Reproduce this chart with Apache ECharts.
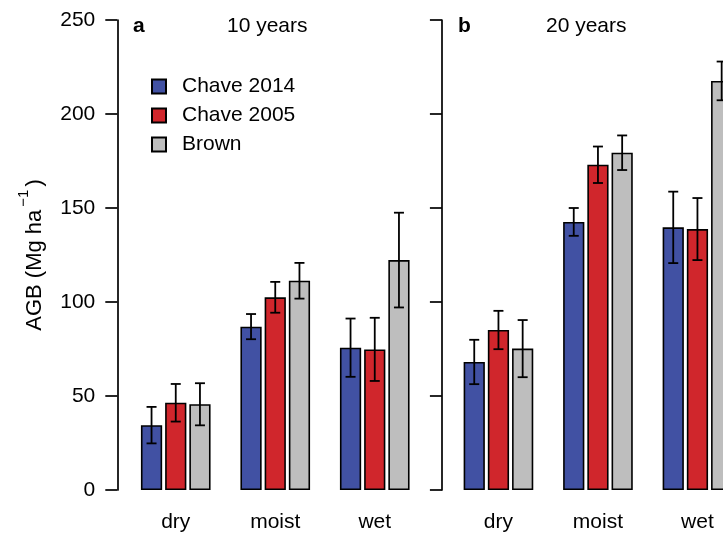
<!DOCTYPE html>
<html>
<head>
<meta charset="utf-8">
<script src="https://cdn.jsdelivr.net/npm/echarts@6/dist/echarts.min.js"></script>
<style>html,body{margin:0;padding:0;background:#fff;}#c{width:723px;height:535px;}</style>
</head>
<body>
<div id="c"></div>
<script>
// ---- data ----
var categories = ['dry', 'moist', 'wet'];
var methods = ['Chave 2014', 'Chave 2005', 'Brown'];
var yTicks = [0, 50, 100, 150, 200, 250];

var a_chave2014 = [34.5, 86.9, 75.7];
var a_chave2014_err = [9.7, 6.7, 15.5];
var a_chave2005 = [46.4, 102.5, 74.8];
var a_chave2005_err = [10.0, 8.2, 16.8];
var a_brown = [45.6, 111.3, 122.3];
var a_brown_err = [11.2, 9.5, 25.2];

var b_chave2014 = [68.1, 142.6, 139.7];
var b_chave2014_err = [11.8, 7.4, 19.0];
var b_chave2005 = [85.1, 173.0, 138.8];
var b_chave2005_err = [10.2, 9.7, 16.5];
var b_brown = [75.2, 179.4, 217.6];
var b_brown_err = [15.2, 9.2, 10.3];

var colors = ['#4151A3', '#D0262C', '#BEBEBE'];
var FONT = 'Liberation Sans, Arial, Helvetica, sans-serif';
var FS = 21;

var panels = [
  {vals: [a_chave2014, a_chave2005, a_brown], errs: [a_chave2014_err, a_chave2005_err, a_brown_err]},
  {vals: [b_chave2014, b_chave2005, b_brown], errs: [b_chave2014_err, b_chave2005_err, b_brown_err]}
];

var CAT_GAP = 0.30, BAR_GAP = 0.14;

function errRender(idx) {
  return function (params, api) {
    var c = api.value(0), lo = api.value(1), hi = api.value(2);
    var band = api.size([1, 0])[0];
    var bw = band * (1 - CAT_GAP) / (3 + 2 * BAR_GAP);
    var pitch = bw * (1 + BAR_GAP);
    var pHi = api.coord([c, hi]);
    var pLo = api.coord([c, lo]);
    var x = pHi[0] + (idx - 1) * pitch;
    var cap = 5;
    var st = {stroke: '#000', lineWidth: 1.8};
    return {
      type: 'group',
      children: [
        {type: 'line', shape: {x1: x, y1: pHi[1], x2: x, y2: pLo[1]}, style: st},
        {type: 'line', shape: {x1: x - cap, y1: pHi[1], x2: x + cap, y2: pHi[1]}, style: st},
        {type: 'line', shape: {x1: x - cap, y1: pLo[1], x2: x + cap, y2: pLo[1]}, style: st}
      ]
    };
  };
}

var grids = [
  {left: 126, width: 298.5, top: 20, height: 470, outerBoundsMode: 'none', containLabel: false},
  {left: 448.7, width: 298.5, top: 20, height: 470, outerBoundsMode: 'none', containLabel: false}
];

var xAxes = [], yAxes = [], series = [];
for (var p = 0; p < 2; p++) {
  xAxes.push({
    type: 'category', gridIndex: p, data: categories,
    axisLine: {show: false}, axisTick: {show: false},
    axisLabel: {color: '#000', fontSize: FS, fontFamily: FONT, margin: 22}
  });
  yAxes.push({
    type: 'value', gridIndex: p, min: yTicks[0], max: yTicks[yTicks.length - 1], interval: 50,
    offset: p === 0 ? 8.7 : 6.8,
    splitLine: {show: false},
    axisLine: {show: true, lineStyle: {color: '#000', width: 1.7}},
    axisTick: {show: true, length: 12, lineStyle: {color: '#000', width: 1.7}},
    axisLabel: {show: p === 0, color: '#000', fontSize: FS, fontFamily: FONT, margin: 22},
    name: p === 0 ? '{m|AGB (Mg ha}{s|\u22121}{m|)}' : '',
    nameLocation: 'middle',
    nameGap: 71,
    nameTextStyle: {
      rich: {
        m: {fontSize: 22, fontFamily: FONT, color: '#000', lineHeight: 30, verticalAlign: 'bottom'},
        s: {fontSize: 15, fontFamily: FONT, color: '#000', lineHeight: 15, verticalAlign: 'top', padding: [0, 3, 0, 3]}
      }
    }
  });
  for (var m = 0; m < 3; m++) {
    series.push({
      type: 'bar', name: methods[m], xAxisIndex: p, yAxisIndex: p,
      data: panels[p].vals[m],
      barCategoryGap: (CAT_GAP * 100) + '%', barGap: (BAR_GAP * 100) + '%',
      itemStyle: {color: colors[m], borderColor: '#000', borderWidth: 1.6},
      emphasis: {disabled: true},
      z: 2
    });
  }
  for (var m2 = 0; m2 < 3; m2++) {
    var ed = [];
    for (var i = 0; i < categories.length; i++) {
      var v = panels[p].vals[m2][i], e = panels[p].errs[m2][i];
      ed.push([i, v - e, v + e]);
    }
    series.push({
      type: 'custom', xAxisIndex: p, yAxisIndex: p,
      renderItem: errRender(m2), data: ed, z: 5, silent: true,
      encode: {x: 0, y: [1, 2]}
    });
  }
}

var chart = echarts.init(document.getElementById('c'), null, {renderer: 'canvas'});
chart.setOption({
  animation: false,
  backgroundColor: '#fff',
  grid: grids,
  xAxis: xAxes,
  yAxis: yAxes,
  title: [
    {text: 'a', left: 133, top: 16, padding: 0, textStyle: {fontSize: FS, fontWeight: 'bold', fontFamily: FONT, color: '#000'}},
    {text: '10 years', left: 227, top: 16, padding: 0, textStyle: {fontSize: FS, fontWeight: 'normal', fontFamily: FONT, color: '#000'}},
    {text: 'b', left: 458, top: 16, padding: 0, textStyle: {fontSize: FS, fontWeight: 'bold', fontFamily: FONT, color: '#000'}},
    {text: '20 years', left: 546, top: 16, padding: 0, textStyle: {fontSize: FS, fontWeight: 'normal', fontFamily: FONT, color: '#000'}}
  ],
  legend: {
    data: methods, orient: 'vertical', left: 151, top: 76, padding: 0,
    itemWidth: 14, itemHeight: 14, itemGap: 8, icon: 'rect',
    textStyle: {fontSize: FS, fontFamily: FONT, color: '#000', lineHeight: 21, padding: [0, 0, 0, 11]},
    selectedMode: false
  },
  series: series
});
</script>
</body>
</html>
